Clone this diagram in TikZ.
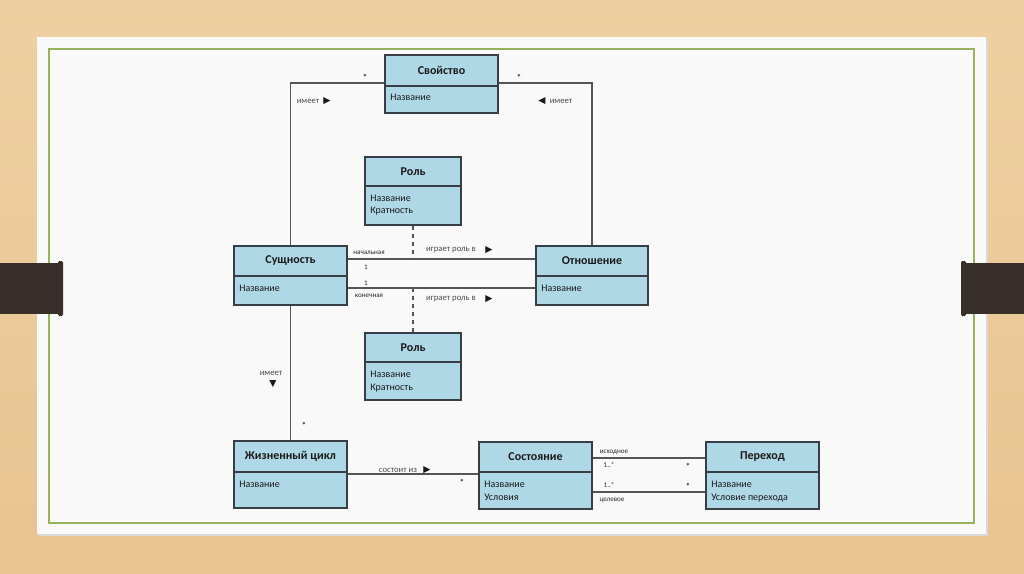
\documentclass[tikz,border=0pt]{standalone}
\usepackage{fontspec}
\setmainfont{Carlito}
\newfontfamily\symfont{DejaVu Sans}
\usetikzlibrary{fit,calc}
\definecolor{wood}{RGB}{232,196,146}
\definecolor{woodlight}{RGB}{238,208,160}
\definecolor{slide}{RGB}{249,249,249}
\definecolor{frameg}{RGB}{150,178,92}
\definecolor{tabc}{RGB}{56,47,42}
\definecolor{boxf}{RGB}{174,216,229}
\definecolor{boxc}{RGB}{55,62,70}
\definecolor{linec}{RGB}{85,85,85}
\definecolor{lblc}{RGB}{75,75,75}
\newcommand\umlclass[7]{%
  \node[cls, fit={(#2,#3) (#4,#5)}] (#1) {};
  \draw[clsline] (#2,#6) -- (#4,#6);
  \node[hdr] (#1-t) at ({(#2+#4)/2},{(#3+#6)/2}) {#7};
}
\begin{document}
\begin{tikzpicture}[x=0.75pt,y=-0.75pt,
  cls/.style={draw=boxc, fill=boxf, line width=0.9pt, inner sep=0pt},
  clsline/.style={draw=boxc, line width=0.9pt},
  hdr/.style={font=\bfseries\fontsize{9}{11}\selectfont, text=black!90, inner sep=0pt},
  bodyt/.style={font=\fontsize{7.5}{9.75}\selectfont, anchor=base west, inner sep=0pt, text=black!90},
  lbl/.style={font=\fontsize{6.5}{7}\selectfont, text=lblc, inner sep=0pt},
  tinyl/.style={font=\fontsize{5.3}{6}\selectfont, text=black!85, inner sep=0pt},
  mult/.style={font=\bfseries\fontsize{6.5}{7}\selectfont, text=black!85, inner sep=0pt},
  tri/.style={font=\symfont\fontsize{7}{8}\selectfont, text=black!90, inner sep=0pt},
  conn/.style={draw=linec, line width=1.05pt},
  dconn/.style={draw=linec, line width=1pt, dash pattern=on 3.5pt off 2.5pt}]
\useasboundingbox (0,0) rectangle (1024,574);
% background
\fill[top color=woodlight, bottom color=wood] (0,0) rectangle (1024,574);
\fill[black!15] (39,39) rectangle (988,536);
\fill[slide] (37,37) rectangle (986,534);
\draw[frameg, line width=1.3pt] (49,49) rectangle (974,523);
\fill[tabc] (0,263) rectangle (61,314);
\fill[tabc, rounded corners=1pt] (58,261) rectangle (63,316);
\fill[tabc] (963,263) rectangle (1024,314);
\fill[tabc, rounded corners=1pt] (961,261) rectangle (966,316);
% classes
\umlclass{prop}{385}{55}{498}{113}{86}{Свойство}
\node[bodyt] (prop-b1) at (390,101) {Название};
\umlclass{role1}{365}{157}{461}{225}{186}{Роль}
\node[bodyt] (role1-b1) at (370,201) {Название};
\node[bodyt] (role1-b2) at (370,214) {Кратность};
\umlclass{ent}{234}{246}{347}{305}{276}{Сущность}
\node[bodyt] (ent-b1) at (239,291) {Название};
\umlclass{rel}{536}{246}{648}{305}{276}{Отношение}
\node[bodyt] (rel-b1) at (541,291) {Название};
\umlclass{role2}{365}{333}{461}{400}{362}{Роль}
\node[bodyt] (role2-b1) at (370,377) {Название};
\node[bodyt] (role2-b2) at (370,390) {Кратность};
\umlclass{lc}{234}{441}{347}{508}{472}{Жизненный цикл}
\node[bodyt] (lc-b1) at (239,487) {Название};
\umlclass{state}{479}{442}{592}{509}{472}{Состояние}
\node[bodyt] (state-b1) at (484,487) {Название};
\node[bodyt] (state-b2) at (484,500) {Условия};
\umlclass{trans}{706}{442}{819}{509}{472}{Переход}
\node[bodyt] (trans-b1) at (711,487) {Название};
\node[bodyt] (trans-b2) at (711,500) {Условие перехода};
% connectors
\draw[conn] (prop.west |- 0,83) -| (ent.north);
\draw[conn] (prop.east |- 0,83) -| (rel.north);
\draw[conn] (ent.east |- 0,259) -- (rel.west |- 0,259);
\draw[conn] (ent.east |- 0,288) -- (rel.west |- 0,288);
\draw[dconn] (role1.south) -- (role1.south |- 0,259);
\draw[dconn] (role2.north) -- (role2.north |- 0,288);
\draw[conn] (ent.south) -- (lc.north);
\draw[conn] (lc.east |- 0,474) -- (state.west |- 0,474);
\draw[conn] (state.east |- 0,458) -- (trans.west |- 0,458);
\draw[conn] (state.east |- 0,492) -- (trans.west |- 0,492);
% labels
\node[lbl] (l1) at (308,101) {имеет};
\node[tri] (l1a) at (327,101) {▶};
\node[tri] (l2a) at (542,101) {◀};
\node[lbl] (l2) at (561,101) {имеет};
\node[mult] (m1) at (365,77) {*};
\node[mult] (m2) at (519,77) {*};
\node[tinyl] (m3) at (369,253) {начальная};
\node[tinyl] (m4) at (366,267) {1};
\node[tinyl] (m5) at (366,283) {1};
\node[tinyl] (m6) at (369,296) {конечная};
\node[lbl] (l3) at (451,250) {играет роль в};
\node[tri] (l3a) at (489,250) {▶};
\node[lbl] (l4) at (451,299) {играет роль в};
\node[tri] (l4a) at (489,299) {▶};
\node[lbl] (l5) at (271,373) {имеет};
\node[tri] (l5a) at (273,384) {▼};
\node[mult] (m7) at (304,425) {*};
\node[lbl] (l6) at (398,470) {состоит из};
\node[tri] (l6a) at (427,470) {▶};
\node[mult] (m8) at (462,482) {*};
\node[tinyl] (m9) at (614,452) {исходное};
\node[tinyl] (m10) at (609,465) {1..*};
\node[mult] (m11) at (688,466) {*};
\node[tinyl] (m12) at (609,485) {1..*};
\node[mult] (m13) at (688,486) {*};
\node[tinyl] (m14) at (612,500) {целевое};
\end{tikzpicture}
\end{document}
